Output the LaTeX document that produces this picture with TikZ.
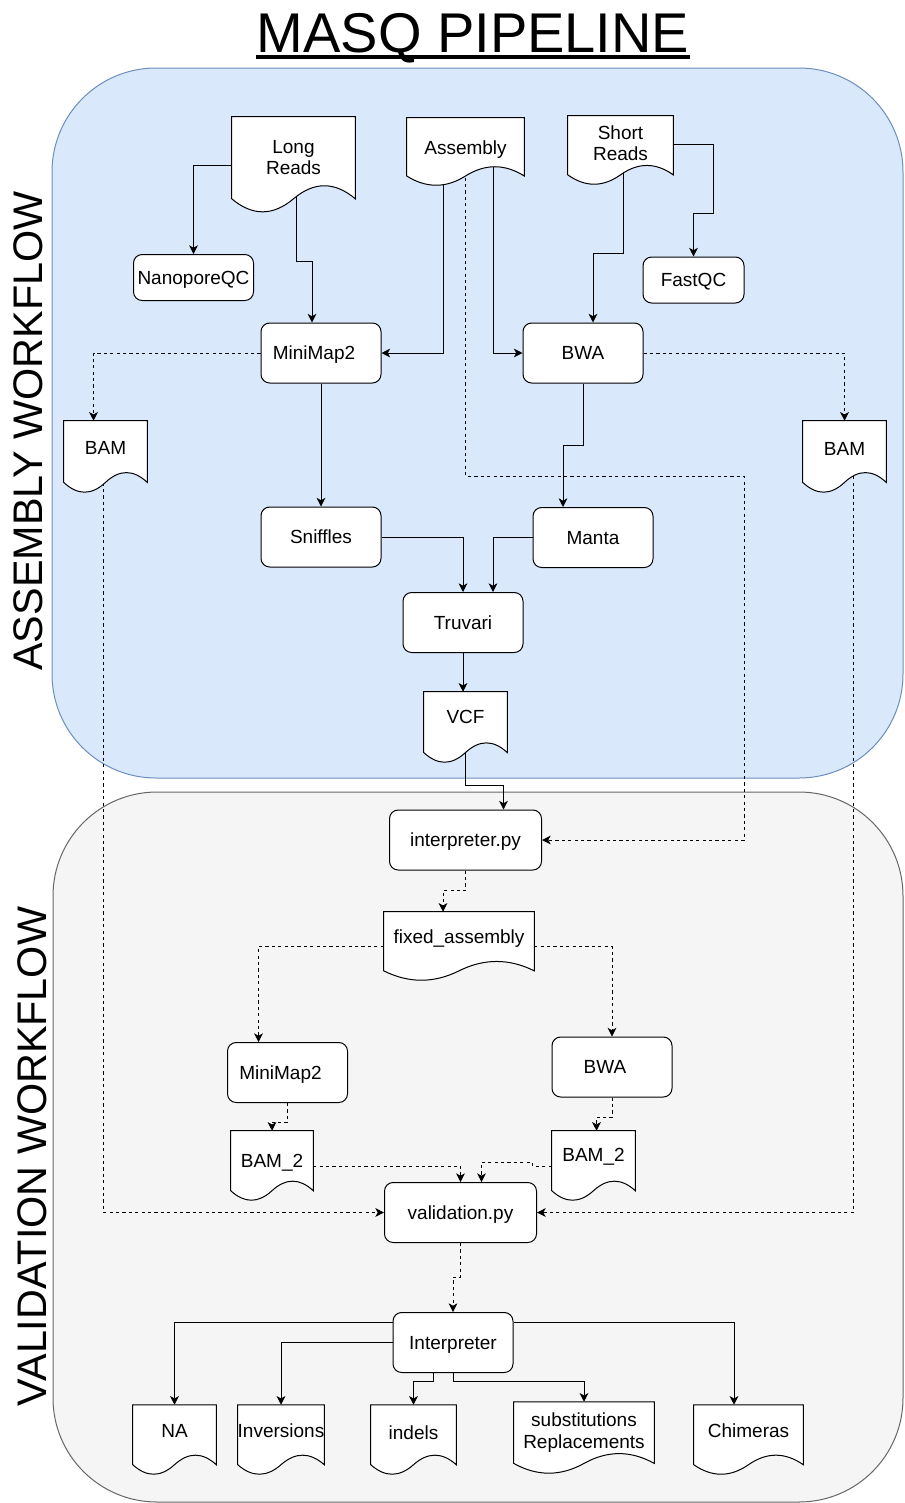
\documentclass[tikz,border=0pt]{standalone}
\usepackage{fontspec}
\setmainfont{Liberation Sans}
\usetikzlibrary{arrows.meta,calc}

\pgfdeclarelayer{bg}
\pgfdeclarelayer{edges}
\pgfdeclarelayer{docs}
\pgfsetlayers{bg,edges,docs,main}

\newcommand\diafont{\fontsize{14.25}{16}\selectfont}

\definecolor{asmfill}{HTML}{DAE8FC}
\definecolor{asmstroke}{HTML}{6C8EBF}
\definecolor{valfill}{HTML}{F5F5F5}
\definecolor{valstroke}{HTML}{666666}

\tikzset{
  asmzone/.style={draw=asmstroke, fill=asmfill, line width=0.75pt, rounded corners=78pt},
  valzone/.style={draw=valstroke, fill=valfill, line width=0.75pt, rounded corners=78pt},
  oneline/.style={text height=13.5pt, text depth=3.6pt},
  proc/.style={draw=black, fill=white, line width=0.75pt, rounded corners=6.5pt,
    minimum width=90pt, minimum height=45pt, inner sep=0pt, font=\diafont, oneline},
  shiftl/.style={execute at end node={\hspace*{10.5pt}}},
  docbox/.style={inner sep=0pt, draw=none},
  doctext/.style={inner sep=0pt, align=center, font=\diafont},
  docline/.style={draw=black, fill=white, line width=0.75pt},
  arr/.style={line width=0.75pt, -{Stealth[length=6.5pt,width=6.5pt,inset=1.8pt]}},
  darr/.style={arr, dash pattern=on 2.4pt off 2.4pt},
  titletext/.style={inner sep=0pt, font=\fontsize{42}{46}\selectfont},
  sidelabel/.style={inner sep=0pt, rotate=90, anchor=base, font=\fontsize{31}{34}\selectfont},
}

% document shape with a wavy foot; #1 = style of its text,
% #2 = name, (#3,#4) = centre of the box, #5 x #6 = size, #7 = vertical text offset, #8 = text
\newcommand\docnode[8][oneline]{%
  \node[docbox, minimum width=#5*0.75pt, minimum height=#6*0.75pt] (#2) at (#3,#4) {};
  \begin{pgfonlayer}{docs}
    \draw[docline] let \p1=(#2.north west), \p2=(#2.south east),
        \n1={\x2-\x1}, \n2={\y1-\y2} in
      (\p1) -- (\x2,\y1) -- (\x2,{\y2+0.15*\n2})
      .. controls ({\x1+5*\n1/6},{\y2+0.33*\n2}) and ({\x1+2*\n1/3},{\y2+0.33*\n2})
      .. ({\x1+\n1/2},{\y2+0.15*\n2})
      .. controls ({\x1+\n1/3},{\y2-0.03*\n2}) and ({\x1+\n1/6},{\y2-0.03*\n2})
      .. (\x1,{\y2+0.15*\n2}) -- cycle;
  \end{pgfonlayer}
  \node[doctext, #1] (#2-text) at ($(#2.center)+(0,{-0.075*#6+#7})$) {#8};}

\begin{document}
\begin{tikzpicture}[x=0.75pt, y=-0.75pt]
\useasboundingbox (0,0) rectangle (904,1503);

\begin{pgfonlayer}{bg}
  \fill[white] (0,0) rectangle (904,1503);
  \draw[asmzone] (52,68) rectangle (903,778);
  \draw[valzone] (53,792) rectangle (903,1502);
\end{pgfonlayer}

% headings
\node[titletext, anchor=base] (ttl) at (473,52) {MASQ PIPELINE};
\draw[line width=3pt] ($(ttl.base west)+(0,5)$) -- ($(ttl.base east)+(0,5)$);
\node[sidelabel] (lblasm) at (42,431) {ASSEMBLY WORKFLOW};
\node[sidelabel] (lblval) at (46,1156.5) {VALIDATION WORKFLOW};

% assembly workflow
\docnode[]{lr}{293.5}{165}{123}{96}{0}{Long\\Reads}
\docnode{asm}{465.5}{152}{117}{68}{1.4}{Assembly}
\docnode[]{sr}{620.5}{150.5}{105}{69}{-2}{Short\\Reads}
\node[proc, minimum height=34.5pt] (nqc) at (193.5,277.5) {NanoporeQC};
\node[proc, minimum width=75.75pt, minimum height=34.5pt] (fqc) at (693.5,280) {FastQC};
\node[proc, shiftl] (mm) at (321,353) {MiniMap2};
\node[proc] (bwa) at (583,353) {BWA};
\docnode{bamL}{105.5}{457}{83}{72}{-3.3}{BAM}
\docnode{bamR}{844.5}{457}{83}{72}{-3}{BAM}
\node[proc] (snf) at (321,537) {Sniffles};
\node[proc] (manta) at (593,537.5) {Manta};
\node[proc] (tru) at (463,622.5) {Truvari};
\docnode{vcf}{465.5}{727.5}{83}{71}{-5}{VCF}

% validation workflow
\node[proc, minimum width=114pt] (interp) at (465.5,840) {interpreter.py};
\docnode{fa}{459}{946.5}{150}{69}{-4.7}{fixed\_assembly}
\node[proc, shiftl] (mm2) at (287.5,1072.5) {MiniMap2};
\node[proc, shiftl] (bwa2) at (612,1067) {BWA};
\docnode{bamL2}{272}{1166}{82}{70}{0}{BAM\_2}
\docnode{bamR2}{593.5}{1166}{83}{70}{-5.5}{BAM\_2}
\node[proc, minimum width=114pt] (val) at (460.5,1212.5) {validation.py};
\node[proc] (int2) at (453,1342.5) {Interpreter};
\docnode{na}{174.5}{1440}{83}{70}{-3.7}{NA}
\docnode{inv}{281}{1440}{86}{70}{-3.7}{Inversions}
\docnode{ind}{413.5}{1440}{85}{70}{-1.7}{indels}
\docnode[]{sub}{584}{1438}{140}{72}{0}{substitutions\\Replacements}
\docnode{chi}{748.5}{1440}{109}{70}{-3.7}{Chimeras}

\begin{pgfonlayer}{edges}
  % reads and assembly into the aligners
  \draw[arr] (lr.west) -| (nqc.north);
  \draw[arr] ($(lr.center)+(3,0)$) |- ($(mm.north)+(-9,-61)$) -- ($(mm.north)+(-9,0)$);
  \draw[arr] ($(asm.center)+(-22,0)$) |- (mm.east);
  \draw[arr] ($(asm.center)+(28,0)$) |- (bwa.west);
  \draw[darr] (asm.center) |- ($(interp.east)+(202,-364)$) |- (interp.east);
  \draw[arr] ($(sr.center)+(3,0)$) |- ($(bwa.north)+(10,-69)$) -- ($(bwa.north)+(10,0)$);
  \draw[arr] ($(sr.east)+(0,-6)$) -| ($(fqc.north)+(20,-43)$) -| (fqc.north);
  % alignments and variant calling
  \draw[darr] (mm.west) -| ($(bamL.north)+(-12,0)$);
  \draw[darr] (bwa.east) -| (bamR.north);
  \draw[arr] (mm.south) -- (snf.north);
  \draw[arr] (bwa.south) |- ($(manta.north)+(-30,-62)$) -- ($(manta.north)+(-30,0)$);
  \draw[arr] (snf.east) -| (tru.north);
  \draw[arr] (manta.west) -| ($(tru.north)+(30,0)$);
  \draw[arr] (tru.south) -- (tru.south |- vcf.north);
  \draw[arr] (vcf.center) |- ($(interp.north)+(38,-24)$) -- ($(interp.north)+(38,0)$);
  % validation
  \draw[darr] (interp.south) |- ($(fa.north)+(-16,-21)$) -- ($(fa.north)+(-16,0)$);
  \draw[darr] (fa.west) -| ($(mm2.north)+(-29,0)$);
  \draw[darr] (fa.east) -| (bwa2.north);
  \draw[darr] (mm2.south) |- ($(bamL2.north)+(0,-8.5)$) -- (bamL2.north);
  \draw[darr] (bwa2.south) |- ($(bamR2.north)+(3,-13.5)$) -- ($(bamR2.north)+(3,0)$);
  \draw[darr] (bamL2.east) -| (val.north);
  \draw[darr] (bamR2.west) -- ++(-19,0) -- ++(0,-3.75) -| ($(val.north)+(21,0)$);
  \draw[darr] ($(bamL.center)+(-2,0)$) |- (val.west);
  \draw[darr] ($(bamR.center)+(9,0)$) |- (val.east);
  \draw[darr] (val.south) |- ($(int2.north)+(0,-35)$) -- (int2.north);
  % result classes
  \draw[arr] ($(int2.west)+(0,-20)$) -| (na.north);
  \draw[arr] (int2.west) -| (inv.north);
  \draw[arr] ($(int2.south)+(-20,0)$) |- ($(ind.north)+(0,-23)$) -- (ind.north);
  \draw[arr] (int2.south) |- ($(sub.north)+(0,-20)$) -- (sub.north);
  \draw[arr] ($(int2.east)+(0,-20)$) -| ($(chi.north)+(-14.5,0)$);
\end{pgfonlayer}
\end{tikzpicture}
\end{document}
